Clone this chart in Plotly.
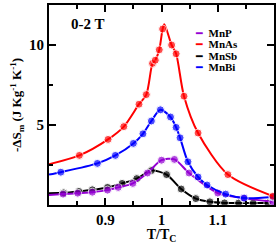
import plotly.graph_objects as go

# ---- data ----
series_names = ["MnP", "MnAs", "MnSb", "MnBi"]
series_colors = ["#9400D3", "#FF0000", "#000000", "#0000FF"]

mnp_T = [0.800, 0.825, 0.851, 0.877, 0.904, 0.923, 0.949, 0.975, 1.000, 1.023, 1.049, 1.100, 1.146, 1.198]
mnp_v = [0.62, 0.68, 0.74, 0.80, 0.93, 1.10, 1.35, 2.00, 2.80, 2.85, 2.00, 0.75, 0.43, 0.20]
mnp_m = [0, 1, 1, 1, 1, 1, 1, 1, 1, 1, 1, 1, 1, 1]

mnas_T = [0.800, 0.854, 0.905, 0.933, 0.960, 0.973, 0.984, 0.989, 0.996, 1.002, 1.005, 1.018, 1.026, 1.040, 1.065, 1.118, 1.198]
mnas_v = [2.55, 3.10, 4.10, 4.90, 6.30, 6.90, 8.85, 9.05, 9.70, 11.00, 11.30, 10.00, 9.45, 6.80, 4.50, 1.90, 0.55]
mnas_m = [0, 1, 1, 1, 1, 1, 1, 1, 1, 1, 0, 1, 1, 1, 1, 1, 1]

mnsb_T = [0.800, 0.826, 0.853, 0.877, 0.904, 0.930, 0.956, 0.982, 1.009, 1.035, 1.061, 1.086, 1.112, 1.137, 1.163, 1.189]
mnsb_v = [0.74, 0.76, 0.85, 0.95, 1.10, 1.35, 1.65, 2.15, 1.90, 1.00, 0.40, 0.20, 0.13, 0.12, 0.12, 0.12]
mnsb_m = [0, 1, 1, 1, 1, 1, 1, 1, 1, 1, 1, 1, 1, 1, 1, 1]

mnbi_T = [0.800, 0.821, 0.886, 0.918, 0.950, 0.967, 0.982, 0.998, 1.016, 1.026, 1.033, 1.047, 1.065, 1.081, 1.114, 1.147, 1.198]
mnbi_v = [1.90, 2.05, 2.60, 3.10, 3.85, 4.45, 5.25, 5.95, 5.50, 4.85, 4.20, 2.70, 1.75, 1.25, 0.68, 0.43, 0.50]
mnbi_m = [0, 1, 1, 1, 1, 1, 1, 1, 1, 1, 1, 1, 1, 1, 1, 1, 1]

x_tickvals = [0.9, 1.0, 1.1]
x_ticktext = ["0.9", "1", "1.1"]
y_tickvals = [5, 10]
y_ticktext = ["5", "10"]
field_label = "0-2 T"

FONT = "Liberation Serif"
MS = 8

fig = go.Figure()
data = [
    (mnp_T, mnp_v, mnp_m),
    (mnas_T, mnas_v, mnas_m),
    (mnsb_T, mnsb_v, mnsb_m),
    (mnbi_T, mnbi_v, mnbi_m),
]
order = [2, 0, 3, 1]
for i in order:
    T, v, m = data[i]
    fig.add_trace(go.Scatter(
        x=T, y=v, mode="lines+markers", name=series_names[i],
        line=dict(color=series_colors[i], width=2, shape="spline", smoothing=0.8),
        marker=dict(color=series_colors[i], size=[MS * k for k in m], symbol="circle"),
        showlegend=False,
    ))

# legend drawn as text entries with short coloured line samples
for k, (nm, col) in enumerate(zip(series_names, series_colors)):
    fig.add_annotation(
        xref="paper", yref="paper", x=0.64, y=0.862 - k * 0.058,
        xanchor="left", yanchor="middle", showarrow=False,
        text=f"<span style='color:{col}'>━</span>  <b>{nm}</b>",
        font=dict(family=FONT, size=11, color="black"),
    )

fig.add_annotation(
    xref="paper", yref="paper", x=0.17, y=0.905, xanchor="center", yanchor="middle",
    showarrow=False, text=f"<b>{field_label}</b>",
    font=dict(family=FONT, size=15, color="black"),
)

axis_common = dict(
    showline=True, linecolor="black", linewidth=2, mirror="ticks",
    ticks="inside", ticklen=7, tickwidth=1.5, tickcolor="black",
    showgrid=False, zeroline=False,
    tickfont=dict(family=FONT, size=15, color="black", weight="bold"),
)

fig.update_xaxes(
    range=[0.8, 1.2], tickvals=x_tickvals, ticktext=x_ticktext,
    minor=dict(ticks="inside", ticklen=4, tickwidth=1.5, tickcolor="black", dtick=0.05, tick0=0.8, showgrid=False),
    title=dict(text="T/T<sub>C</sub>", font=dict(family=FONT, size=14, color="black", weight="bold"), standoff=2),
    **axis_common,
)
fig.update_yaxes(
    range=[0, 12.5], tickvals=y_tickvals, ticktext=y_ticktext,
    minor=dict(ticks="inside", ticklen=4, tickwidth=1.5, tickcolor="black", dtick=2.5, tick0=0, showgrid=False),
    title=dict(text="-ΔS<sub>m</sub> (J Kg<sup>-1</sup> K<sup>-1</sup>)",
               font=dict(family=FONT, size=13, color="black", weight="bold"), standoff=4),
    **axis_common,
)

fig.update_layout(
    width=279, height=244,
    margin=dict(l=49, r=4, t=3, b=39),
    paper_bgcolor="white", plot_bgcolor="white",
    showlegend=False,
)

fig.write_html(
    "out.html",
    config={"displayModeBar": False},
    post_script="document.body.style.margin='0px';document.body.style.overflow='hidden';",
)
